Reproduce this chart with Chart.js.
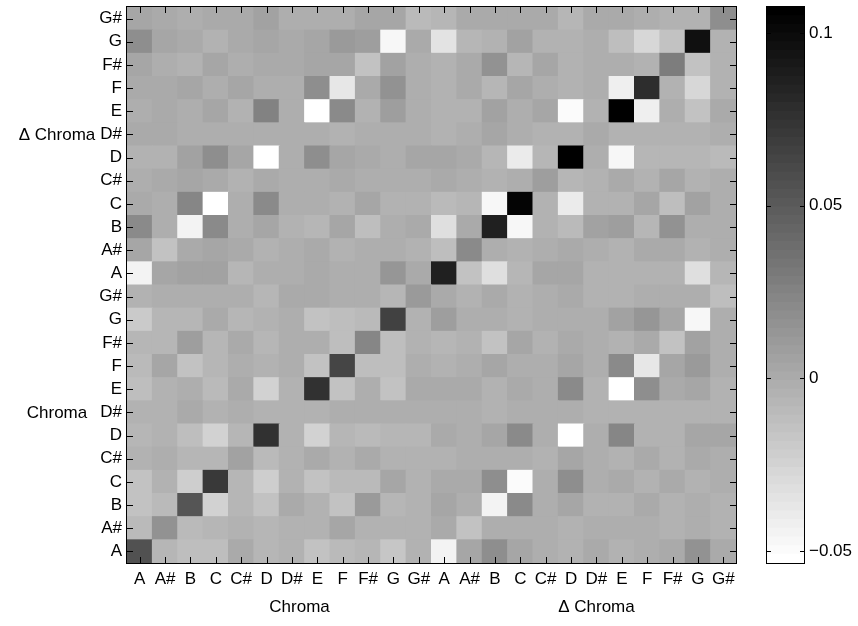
<!DOCTYPE html>
<html>
<head>
<meta charset="utf-8">
<script src="https://cdn.jsdelivr.net/npm/chart.js@4.4.1/dist/chart.umd.min.js"></script>
<style>
  html, body { margin: 0; padding: 0; background: #fff; }
  #wrap { position: relative; width: 858px; height: 626px; overflow: hidden; }
  #heat { position: absolute; left: 0; top: 0; }
  #cbar { position: absolute; left: 740px; top: 0; }
</style>
</head>
<body>
<div id="wrap">
  <canvas id="heat" width="858" height="626"></canvas>
  <canvas id="cbar" width="118" height="626"></canvas>
</div>
<script>
// Pitch classes used for both halves of the matrix
const noteNames = ['A', 'A#', 'B', 'C', 'C#', 'D', 'D#', 'E', 'F', 'F#', 'G', 'G#'];
const columnLabels = noteNames.concat(noteNames);
const rowLabels = noteNames.concat(noteNames);          // bottom to top
const groupTitles = ['Chroma', '\u0394 Chroma'];
const colorbarTicks = [-0.05, 0, 0.05, 0.1];
const colorbarTickLabels = ['\u22120.05', '0', '0.05', '0.1'];

// Covariance rows, one per feature (columns: Chroma A..G#, then Delta Chroma A..G#)
const deltaGs = [0.0028, 0.0002, -0.0010, 0.0002, 0.0002, 0.0053, -0.0023, -0.0023, -0.0023, 0.0028, 0.0028, -0.0086, -0.0061, 0.0002, 0.0002, 0.0002, 0.0002, -0.0073, 0.0015, 0.0015, -0.0023, -0.0036, -0.0036, 0.0192];
const deltaG  = [0.0179, 0.0028, 0.0002, -0.0048, 0.0015, 0.0040, 0.0002, 0.0040, 0.0103, 0.0078, -0.0465, 0.0002, -0.0338, -0.0061, -0.0036, 0.0053, -0.0048, -0.0048, -0.0010, -0.0111, -0.0263, -0.0149, 0.0962, -0.0048];
const deltaFs = [0.0040, -0.0010, -0.0036, 0.0028, -0.0023, 0.0002, 0.0002, 0.0028, 0.0028, -0.0149, 0.0053, -0.0010, -0.0048, 0.0002, 0.0166, -0.0073, 0.0040, -0.0048, -0.0023, -0.0023, -0.0048, 0.0280, -0.0149, -0.0036];
const deltaF  = [0.0002, 0.0002, 0.0040, -0.0023, 0.0028, -0.0010, -0.0010, 0.0179, -0.0376, 0.0002, 0.0154, -0.0010, -0.0048, 0.0002, -0.0061, 0.0028, -0.0023, -0.0048, -0.0023, -0.0414, 0.0785, -0.0048, -0.0275, -0.0036];
const deltaE  = [-0.0010, 0.0015, -0.0023, 0.0028, -0.0036, 0.0267, -0.0010, -0.0534, 0.0204, -0.0048, 0.0078, -0.0023, -0.0036, -0.0036, 0.0065, -0.0023, 0.0028, -0.0490, -0.0036, 0.1075, -0.0414, -0.0023, -0.0136, 0.0002];
const deltaDs = [0.0015, 0.0002, -0.0010, -0.0010, -0.0010, -0.0010, -0.0023, -0.0010, -0.0036, -0.0023, -0.0023, -0.0023, -0.0036, -0.0023, 0.0028, -0.0023, -0.0036, -0.0036, 0.0002, -0.0036, -0.0048, -0.0048, -0.0048, -0.0010];
const deltaD  = [-0.0048, -0.0036, 0.0053, 0.0192, 0.0028, -0.0534, -0.0023, 0.0192, 0.0040, 0.0015, -0.0023, 0.0028, 0.0028, 0.0015, -0.0073, -0.0389, -0.0061, 0.1070, -0.0023, -0.0477, -0.0061, -0.0061, -0.0061, -0.0086];
const deltaCs = [-0.0023, 0.0002, 0.0028, 0.0002, -0.0048, 0.0015, -0.0010, -0.0023, 0.0002, -0.0023, -0.0010, -0.0010, 0.0002, -0.0023, -0.0048, -0.0023, 0.0091, -0.0073, -0.0036, 0.0002, -0.0048, 0.0028, -0.0048, -0.0023];
const deltaC  = [0.0002, -0.0023, 0.0230, -0.0515, -0.0023, 0.0217, -0.0023, -0.0023, -0.0036, 0.0040, -0.0048, -0.0048, -0.0086, -0.0073, -0.0465, 0.1025, -0.0036, -0.0389, -0.0036, -0.0036, 0.0040, -0.0111, 0.0053, -0.0023];
const deltaB  = [0.0217, -0.0023, -0.0439, 0.0217, -0.0023, 0.0028, -0.0036, -0.0061, 0.0040, -0.0111, -0.0023, 0.0002, -0.0313, 0.0002, 0.0860, -0.0465, -0.0048, -0.0086, 0.0053, 0.0078, -0.0073, 0.0166, -0.0023, -0.0023];
const deltaAs = [0.0040, -0.0136, 0.0002, 0.0028, 0.0002, -0.0036, -0.0010, 0.0015, -0.0036, -0.0023, -0.0023, -0.0036, -0.0111, 0.0217, -0.0010, -0.0036, -0.0023, 0.0002, -0.0010, -0.0036, 0.0015, 0.0015, -0.0048, -0.0023];
const deltaA  = [-0.0439, 0.0040, 0.0065, 0.0053, -0.0061, -0.0023, -0.0010, 0.0002, -0.0023, -0.0023, 0.0141, 0.0015, 0.0860, -0.0136, -0.0313, -0.0061, 0.0040, 0.0040, -0.0048, -0.0048, -0.0048, -0.0048, -0.0313, -0.0061];
const chromaGs = [-0.0048, -0.0010, -0.0010, -0.0023, -0.0023, -0.0061, 0.0015, 0.0015, -0.0010, -0.0010, -0.0061, 0.0103, 0.0002, -0.0048, 0.0002, -0.0036, -0.0023, 0.0002, -0.0048, -0.0048, -0.0023, -0.0023, -0.0023, -0.0111];
const chromaG  = [-0.0187, -0.0061, -0.0073, 0.0002, -0.0061, -0.0048, -0.0023, -0.0136, -0.0124, -0.0086, 0.0659, -0.0048, 0.0091, -0.0023, -0.0023, -0.0036, -0.0023, -0.0023, -0.0023, 0.0053, 0.0129, 0.0040, -0.0477, -0.0010];
const chromaFs = [-0.0073, -0.0061, 0.0091, -0.0061, 0.0002, -0.0073, -0.0023, -0.0023, -0.0111, 0.0242, -0.0111, -0.0036, -0.0061, -0.0036, -0.0149, 0.0040, -0.0036, 0.0002, -0.0023, -0.0036, 0.0015, -0.0149, 0.0065, -0.0010];
const chromaF  = [-0.0086, 0.0040, -0.0149, -0.0073, -0.0023, -0.0048, -0.0023, -0.0136, 0.0633, -0.0124, -0.0124, -0.0010, -0.0036, -0.0023, 0.0040, -0.0023, -0.0023, 0.0040, -0.0023, 0.0217, -0.0376, 0.0028, 0.0116, -0.0023];
const chromaE  = [-0.0111, -0.0048, -0.0023, -0.0099, 0.0015, -0.0237, -0.0048, 0.0754, -0.0136, -0.0023, -0.0136, 0.0002, 0.0002, 0.0002, -0.0036, 0.0002, -0.0023, 0.0217, -0.0036, -0.0534, 0.0192, 0.0002, 0.0028, -0.0036];
const chromaDs = [-0.0036, -0.0036, 0.0002, -0.0048, -0.0023, -0.0048, -0.0036, -0.0036, -0.0023, -0.0023, -0.0023, -0.0010, -0.0023, -0.0023, -0.0036, -0.0023, -0.0023, -0.0023, -0.0036, -0.0036, -0.0036, -0.0036, -0.0036, -0.0048];
const chromaD  = [-0.0061, -0.0048, -0.0124, -0.0237, -0.0073, 0.0760, -0.0048, -0.0250, -0.0061, -0.0086, -0.0061, -0.0073, 0.0002, -0.0010, 0.0028, 0.0217, -0.0010, -0.0534, -0.0023, 0.0230, -0.0036, -0.0036, 0.0028, 0.0028];
const chromaCs = [-0.0048, -0.0023, -0.0061, -0.0073, 0.0065, -0.0086, -0.0048, 0.0002, -0.0036, 0.0002, -0.0048, -0.0048, -0.0048, -0.0010, -0.0010, -0.0010, -0.0036, 0.0028, -0.0023, -0.0036, 0.0002, -0.0036, 0.0002, -0.0023];
const chromaC  = [-0.0136, -0.0048, -0.0212, 0.0722, -0.0073, -0.0212, -0.0048, -0.0136, -0.0086, -0.0086, 0.0028, -0.0036, 0.0015, 0.0015, 0.0192, -0.0490, -0.0023, 0.0192, -0.0023, 0.0002, -0.0048, 0.0002, -0.0048, -0.0023];
const chromaB  = [-0.0136, -0.0086, 0.0545, -0.0237, -0.0061, -0.0136, 0.0002, -0.0036, -0.0136, 0.0103, -0.0061, -0.0036, 0.0028, -0.0023, -0.0439, 0.0217, -0.0010, 0.0028, -0.0048, -0.0048, 0.0002, -0.0048, -0.0023, -0.0036];
const chromaAs = [-0.0086, 0.0166, -0.0099, -0.0073, -0.0048, -0.0061, -0.0048, -0.0048, 0.0040, -0.0048, -0.0048, -0.0036, 0.0002, -0.0149, -0.0023, -0.0023, -0.0023, -0.0048, -0.0023, -0.0023, -0.0023, -0.0036, -0.0010, -0.0036];
const chromaA  = [0.0570, -0.0061, -0.0111, -0.0111, 0.0002, -0.0061, -0.0036, -0.0136, -0.0086, -0.0061, -0.0162, -0.0048, -0.0439, 0.0040, 0.0192, 0.0040, -0.0023, -0.0048, 0.0015, -0.0036, -0.0023, 0.0015, 0.0166, 0.0002];

const rowsBottomUp = [
  chromaA, chromaAs, chromaB, chromaC, chromaCs, chromaD, chromaDs, chromaE, chromaF, chromaFs, chromaG, chromaGs,
  deltaA, deltaAs, deltaB, deltaC, deltaCs, deltaD, deltaDs, deltaE, deltaF, deltaFs, deltaG, deltaGs
];

// Colour limits follow the data range; 64-level inverted grey map
const allValues = rowsBottomUp.flat();
const cMin = Math.min(...allValues);
const cMax = Math.max(...allValues);
const LEVELS = 64;

function levelGray(idx) {
  const g = Math.round(255 * (1 - idx / (LEVELS - 1)));
  return 'rgb(' + g + ',' + g + ',' + g + ')';
}
function grayFor(v) {
  let idx = Math.floor((v - cMin) / (cMax - cMin) * LEVELS);
  idx = Math.max(0, Math.min(LEVELS - 1, idx));
  return levelGray(idx);
}

const FONT = { family: '"Liberation Sans", Arial, Helvetica, sans-serif', size: 17 };
const FONT_CSS = '17px "Liberation Sans", Arial, Helvetica, sans-serif';
const TICK_LEN = 6;

// mid-grey behind the cells so sub-pixel seams stay invisible
const cellBackdrop = {
  id: 'cellBackdrop',
  beforeDatasetsDraw(chart) {
    const a = chart.chartArea, ctx = chart.ctx;
    ctx.save();
    ctx.fillStyle = grayFor(0);
    ctx.fillRect(a.left, a.top, a.right - a.left, a.bottom - a.top);
    ctx.restore();
  }
};

// box around the plot with inward tick marks on all four sides
const boxedAxes = {
  id: 'boxedAxes',
  afterDatasetsDraw(chart) {
    const { ctx, chartArea: a, scales: { x, y } } = chart;
    ctx.save();
    ctx.strokeStyle = '#000';
    ctx.lineWidth = 1;
    ctx.beginPath();
    x.ticks.forEach((t, i) => {
      const px = Math.round(x.getPixelForTick(i)) + 0.5;
      ctx.moveTo(px, a.bottom); ctx.lineTo(px, a.bottom - TICK_LEN);
      ctx.moveTo(px, a.top); ctx.lineTo(px, a.top + TICK_LEN);
    });
    y.ticks.forEach((t, i) => {
      const py = Math.round(y.getPixelForTick(i)) + 0.5;
      ctx.moveTo(a.left, py); ctx.lineTo(a.left + TICK_LEN, py);
      ctx.moveTo(a.right, py); ctx.lineTo(a.right - TICK_LEN, py);
    });
    ctx.stroke();
    ctx.strokeRect(Math.round(a.left) - 0.5, Math.round(a.top) - 0.5,
                   Math.round(a.right - a.left) + 1, Math.round(a.bottom - a.top) + 1);
    ctx.restore();
  }
};

// group titles under the columns and beside the rows
const groupLabels = {
  id: 'groupLabels',
  afterDraw(chart) {
    const { ctx, chartArea: a, scales: { x, y } } = chart;
    ctx.save();
    ctx.fillStyle = '#000';
    ctx.font = FONT_CSS;
    ctx.textAlign = 'center';
    ctx.textBaseline = 'middle';
    ctx.fillText(groupTitles[0], x.getPixelForValue(6.3), a.bottom + 44);
    ctx.fillText(groupTitles[1], x.getPixelForValue(18.0), a.bottom + 44);
    ctx.fillText(groupTitles[0], a.left - 70, y.getPixelForValue(6.45));
    ctx.fillText(groupTitles[1], a.left - 70, y.getPixelForValue(18.45));
    ctx.restore();
  }
};

new Chart(document.getElementById('heat'), {
  type: 'bar',
  data: {
    labels: columnLabels,
    datasets: rowsBottomUp.map((vals, r) => ({
      label: rowLabels[r],
      data: vals.map(() => [r, r + 1]),
      backgroundColor: vals.map(grayFor),
      borderWidth: 0,
      inflateAmount: 0.5,
      barPercentage: 1,
      categoryPercentage: 1,
      grouped: false
    }))
  },
  options: {
    responsive: false,
    animation: false,
    devicePixelRatio: 1,
    layout: { padding: { left: 0, right: 122, top: 7, bottom: 0 } },
    plugins: { legend: { display: false }, tooltip: { enabled: false } },
    scales: {
      x: {
        grid: { display: false, drawTicks: false },
        border: { display: false },
        ticks: { color: '#000', font: FONT, padding: 6, maxRotation: 0, autoSkip: false },
        afterFit(s) { s.height = 63; s.paddingLeft = 0; s.paddingRight = 0; }
      },
      y: {
        min: 0,
        max: 24,
        grid: { display: false, drawTicks: false },
        border: { display: false },
        afterBuildTicks(s) { s.ticks = rowLabels.map((_, i) => ({ value: i + 0.5 })); },
        ticks: {
          color: '#000', font: FONT, padding: 5, autoSkip: false,
          callback: (v, i) => rowLabels[i]
        },
        afterFit(s) { s.width = 127; s.paddingTop = 0; s.paddingBottom = 0; }
      }
    }
  },
  plugins: [cellBackdrop, boxedAxes, groupLabels]
});

// colour scale: one floating segment per grey level
const levelEdges = Array.from({ length: LEVELS + 1 }, (_, k) => cMin + (cMax - cMin) * k / LEVELS);

const colorbarFrame = {
  id: 'colorbarFrame',
  afterDatasetsDraw(chart) {
    const { ctx, chartArea: a, scales: { y } } = chart;
    ctx.save();
    ctx.strokeStyle = '#000';
    ctx.lineWidth = 1;
    ctx.beginPath();
    y.ticks.forEach((t, i) => {
      const py = Math.round(y.getPixelForTick(i)) + 0.5;
      ctx.moveTo(a.left, py); ctx.lineTo(a.left + 4, py);
      ctx.moveTo(a.right, py); ctx.lineTo(a.right - 4, py);
    });
    ctx.stroke();
    ctx.strokeRect(Math.round(a.left) - 0.5, Math.round(a.top) - 0.5,
                   Math.round(a.right - a.left) + 1, Math.round(a.bottom - a.top) + 1);
    ctx.restore();
  }
};

new Chart(document.getElementById('cbar'), {
  type: 'bar',
  data: {
    labels: ['scale'],
    datasets: levelEdges.slice(0, LEVELS).map((lo, k) => ({
      data: [[lo, levelEdges[k + 1]]],
      backgroundColor: levelGray(k),
      borderWidth: 0,
      inflateAmount: 0.5,
      barPercentage: 1,
      categoryPercentage: 1,
      grouped: false
    }))
  },
  options: {
    responsive: false,
    animation: false,
    devicePixelRatio: 1,
    layout: { padding: { left: 27, right: 0, top: 7, bottom: 63 } },
    plugins: { legend: { display: false }, tooltip: { enabled: false } },
    scales: {
      x: { display: false },
      y: {
        position: 'right',
        min: cMin,
        max: cMax,
        grid: { display: false, drawTicks: false },
        border: { display: false },
        afterBuildTicks(s) { s.ticks = colorbarTicks.map(v => ({ value: v })); },
        ticks: {
          color: '#000', font: FONT, padding: 5, autoSkip: false,
          callback: (v, i) => colorbarTickLabels[i]
        },
        afterFit(s) { s.width = 54; s.paddingTop = 0; s.paddingBottom = 0; }
      }
    }
  },
  plugins: [colorbarFrame]
});
</script>
</body>
</html>
